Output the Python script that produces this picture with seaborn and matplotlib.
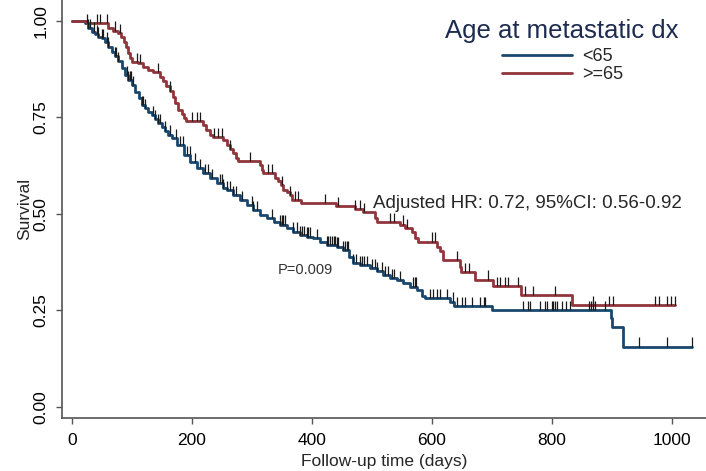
import matplotlib
matplotlib.use("Agg")
import matplotlib.pyplot as plt
import numpy as np
import pandas as pd
import seaborn as sns

# Kaplan-Meier estimates (time in days, survival)
young_time = [0, 22, 27, 33, 38, 44, 50, 55, 60, 66, 72, 77, 83, 88, 94, 100, 105, 111, 116, 122,
              127, 133, 138, 144, 150, 155, 160, 166, 175, 186, 197, 208, 219, 230, 241, 252, 258, 269, 280, 291,
              302, 313, 325, 336, 347, 358, 369, 380, 391, 402, 413, 425, 441, 452, 461, 469, 480, 497, 508, 519,
              530, 541, 552, 563, 575, 583, 588, 630, 636, 700, 898, 900, 918, 1033]
young_surv = [1.0, 0.994, 0.981, 0.972, 0.966, 0.959, 0.955, 0.946, 0.933, 0.920, 0.908, 0.895, 0.877, 0.860,
              0.847, 0.834, 0.817, 0.800, 0.782, 0.774, 0.765, 0.756, 0.746, 0.736, 0.725, 0.716, 0.705, 0.696,
              0.679, 0.653, 0.635, 0.618, 0.605, 0.592, 0.580, 0.567, 0.562, 0.549, 0.536, 0.523, 0.510, 0.497,
              0.489, 0.480, 0.472, 0.463, 0.454, 0.446, 0.441, 0.437, 0.428, 0.420, 0.415, 0.407, 0.389, 0.372,
              0.368, 0.359, 0.351, 0.342, 0.333, 0.329, 0.320, 0.312, 0.303, 0.288, 0.281, 0.273, 0.262, 0.251,
              0.231, 0.207, 0.156, 0.156]
young_censor = [27, 30, 36, 41, 44, 50, 52, 58, 60, 72, 74, 77, 91, 94, 97, 99, 102, 116, 119, 122, 135, 138,
                144, 147, 155, 163, 174, 180, 185, 191, 196, 205, 213, 222, 227, 233, 247, 250, 252, 258, 263,
                269, 274, 283, 300, 302, 308, 333, 347, 350, 352, 355, 369, 375, 380, 383, 386, 391, 394, 397,
                408, 425, 427, 430, 433, 436, 438, 441, 444, 452, 455, 458, 460, 469, 474, 480, 483, 486, 491,
                500, 505, 508, 516, 522, 527, 533, 536, 547, 569, 572, 574, 597, 602, 608, 613, 625, 635, 641,
                650, 655, 666, 680, 686, 688, 752, 760, 763, 780, 788, 791, 800, 802, 805, 808, 816, 824, 830,
                861, 865, 869, 872, 888, 945, 991, 1033]

old_time = [0, 25, 60, 68, 77, 82, 86, 90, 93, 97, 100, 110, 118, 127, 135, 147, 152, 157, 163, 169,
            172, 177, 183, 187, 190, 219, 224, 230, 235, 252, 258, 263, 269, 274, 277, 313, 316, 319, 338, 344,
            349, 352, 358, 363, 366, 381, 440, 472, 485, 505, 508, 547, 555, 566, 572, 577, 608, 613, 618, 647,
            649, 672, 702, 748, 834, 1005]
old_surv = [1.0, 0.994, 0.982, 0.975, 0.969, 0.959, 0.946, 0.933, 0.917, 0.904, 0.894, 0.890, 0.881, 0.873,
            0.868, 0.855, 0.845, 0.832, 0.819, 0.803, 0.788, 0.769, 0.760, 0.749, 0.741, 0.731, 0.718, 0.705,
            0.698, 0.692, 0.679, 0.667, 0.657, 0.645, 0.636, 0.627, 0.614, 0.605, 0.592, 0.584, 0.575, 0.562,
            0.557, 0.548, 0.536, 0.528, 0.521, 0.513, 0.505, 0.489, 0.479, 0.472, 0.463, 0.453, 0.437, 0.428,
            0.415, 0.404, 0.380, 0.363, 0.350, 0.330, 0.313, 0.290, 0.263, 0.263]
old_censor = [25, 41, 47, 58, 72, 80, 108, 113, 144, 163, 200, 208, 213, 236, 244, 250, 263, 297, 327, 333,
              350, 363, 372, 377, 422, 444, 472, 480, 486, 530, 536, 552, 558, 600, 605, 641, 655, 661, 694,
              708, 713, 722, 727, 744, 755, 769, 805, 868, 895, 902, 972, 979, 992, 998, 1005]

groups = ["<65", ">=65"]
colors = {"<65": "#1a476f", ">=65": "#90353b"}
x_ticks = [0, 200, 400, 600, 800, 1000]
y_ticks = [0.0, 0.25, 0.5, 0.75, 1.0]

df = pd.concat([
    pd.DataFrame({"time": young_time, "surv": young_surv, "group": "<65"}),
    pd.DataFrame({"time": old_time, "surv": old_surv, "group": ">=65"}),
], ignore_index=True)

sns.set_theme(style="ticks")
plt.rcParams["font.family"] = ["Liberation Sans", "DejaVu Sans"]

fig = plt.figure(figsize=(7.06, 4.71), dpi=100)
ax = fig.add_axes([62 / 706, 53 / 471, 644 / 706, 418 / 471])

sns.lineplot(data=df, x="time", y="surv", hue="group", hue_order=groups, palette=colors,
             drawstyle="steps-post", estimator=None, linewidth=2.0, ax=ax)


def surv_at(times, surv, t):
    idx = np.searchsorted(times, t, side="right") - 1
    return np.asarray(surv)[idx]


for times, surv, cens in [(young_time, young_surv, young_censor), (old_time, old_surv, old_censor)]:
    s = surv_at(np.asarray(times), surv, np.asarray(cens))
    ax.vlines(cens, s, s + 0.024, color="#1a1a1a", linewidth=0.9, zorder=3)

ax.set_xlim(-16.7, 1056.7)
ax.set_ylim(-0.0285, 1.054)
ax.set_xticks(x_ticks)
ax.set_yticks(y_ticks)
ax.set_yticklabels([f"{v:.2f}" for v in y_ticks], rotation=90, va="center")
ax.tick_params(direction="out", length=4.5, width=1, color="#555555", labelsize=12.5,
               labelcolor="black")
ax.tick_params(axis="x", pad=6.5)
ax.tick_params(axis="y", pad=5)
for side in ["top", "right"]:
    ax.spines[side].set_visible(False)
for side in ["left", "bottom"]:
    ax.spines[side].set_color("#555555")
    ax.spines[side].set_linewidth(1.2)

ax.set_xlabel("Follow-up time (days)", fontsize=12.5, labelpad=4)
ax.set_ylabel("Survival", fontsize=12.5, labelpad=1)

ax.text(502, 0.526, "Adjusted HR: 0.72, 95%CI: 0.56-0.92", fontsize=13.5, va="center", ha="left")
ax.text(343, 0.355, "P=0.009", fontsize=10.5, va="center", ha="left", color="#333333")

handles, labels = ax.get_legend_handles_labels()
leg = ax.legend(handles, labels, loc="upper left",
                bbox_to_anchor=(502 / 706, 1 - 48 / 471), bbox_transform=fig.transFigure,
                frameon=False, fontsize=13, handlelength=3.9,
                handletextpad=0.55, labelspacing=0.05, borderpad=0, borderaxespad=0)
fig.text(561.5 / 706, 1 - 38 / 471, "Age at metastatic dx", fontsize=18.5, color="#1c2b4f",
         ha="center", va="baseline")

fig.savefig("out.png", dpi=100)
